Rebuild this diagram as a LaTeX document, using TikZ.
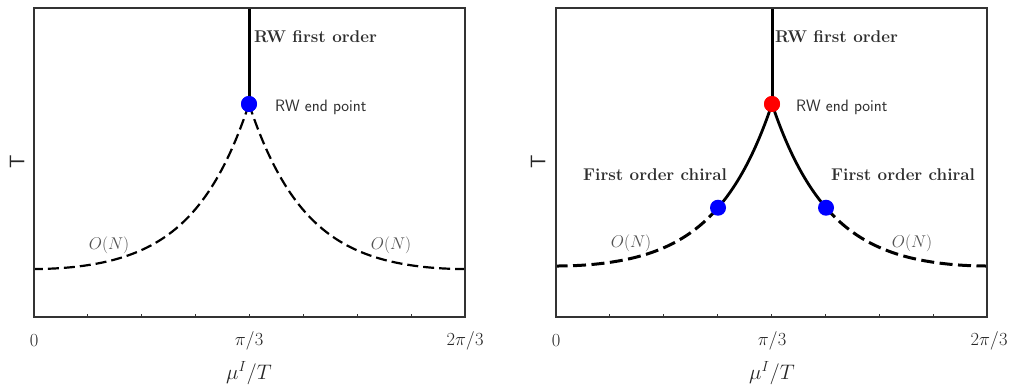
\documentclass[tikz,border=0pt]{standalone}
\usepackage{fix-cm}
\begin{document}
\begin{tikzpicture}[x=1pt,y=-1pt,
  declare function={fb(\d)=(exp(-\d/57)+exp(-(431-\d)/57)-2*exp(-215.5/57))/(1+exp(-431/57)-2*exp(-215.5/57));},
  frame/.style={draw=black!80, line width=1.3pt},
  tickline/.style={draw=black!80, line width=0.9pt},
  dot/.style={circle, inner sep=0pt, minimum size=16pt, draw=none},
  boldlab/.style={inner sep=0pt, text=black!82, font=\fontsize{17}{19}\selectfont\bfseries},
  sanslab/.style={inner sep=0pt, text=black!82, font=\fontsize{16.5}{18}\selectfont\sffamily},
  onlab/.style={inner sep=0pt, text=black!68, font=\fontsize{17}{19}\selectfont},
  ticklab/.style={inner sep=0pt, text=black!85, font=\fontsize{18.5}{20}\selectfont},
  axlab/.style={inner sep=0pt, text=black!85, font=\fontsize{21}{23}\selectfont},
  ylab/.style={inner sep=0pt, text=black!85, rotate=90, font=\fontsize{21}{23}\selectfont\sffamily},
  lefdash/.style={line width=2.2pt, dash pattern=on 11pt off 5pt},
  rigdash/.style={line width=3pt, dash pattern=on 13pt off 5.5pt},
  solidc/.style={line width=2.8pt},
  rwline/.style={line width=3pt},
]
\useasboundingbox (0,0) rectangle (1011,385);
% ---------- left panel ----------
\draw[lefdash] plot[domain=0:215.5, samples=100] ({249-\x},{269-165*fb(\x)});
\draw[lefdash] plot[domain=0:215.5, samples=100] ({249+\x},{269-165*fb(\x)});
\coordinate (ltop) at (249,8);
\node[dot, fill=blue] (lend) at (249,104) {};
\draw[rwline] (ltop) -- (lend.center);
\node[dot, fill=blue] at (lend) {};
\draw[frame] (34,8) rectangle (465,317);
\foreach \i in {1,...,7} \draw[tickline] ({34+\i*53.875},317) -- ++(0,-3.5);
\node[boldlab, anchor=base west] (lrw) at (254,43) {RW first order};
\node[sanslab, anchor=base west] (lep) at (275,112) {RW end point};
\node[onlab, anchor=base] (lon1) at (109,249) {$O(N)$};
\node[onlab, anchor=base] (lon2) at (391,249) {$O(N)$};
\node[ticklab] (lt0) at (34,341) {$0$};
\node[ticklab] (lt1) at (249,341) {$\pi/3$};
\node[ticklab] (lt2) at (465,341) {$2\pi/3$};
\node[axlab] (lxl) at (249,373) {$\mu^I/T$};
\node[ylab] (lyl) at (17,162) {T};
% ---------- right panel ----------
\draw[rigdash] plot[domain=54:215.5, samples=80] ({772-\x},{266-162*fb(\x)});
\draw[rigdash] plot[domain=54:215.5, samples=80] ({772+\x},{266-162*fb(\x)});
\draw[solidc] plot[domain=0:54, samples=40] ({772-\x},{266-162*fb(\x)});
\draw[solidc] plot[domain=0:54, samples=40] ({772+\x},{266-162*fb(\x)});
\coordinate (rtop) at (772,8);
\node[dot, fill=red] (rend) at (772,104) {};
\draw[rwline] (rtop) -- (rend.center);
\node[dot, fill=red] at (rend) {};
\node[dot, fill=blue] (rb1) at ({772-54},{266-162*fb(54)}) {};
\node[dot, fill=blue] (rb2) at ({772+54},{266-162*fb(54)}) {};
\draw[frame] (556,8) rectangle (987,317);
\foreach \i in {1,...,7} \draw[tickline] ({556+\i*53.875},317) -- ++(0,-3.5);
\node[boldlab, anchor=base west] (rrw) at (775,43) {RW first order};
\node[sanslab, anchor=base west] (rep) at (796,112) {RW end point};
\node[boldlab, anchor=base west] (rfc1) at (583,180) {First order chiral};
\node[boldlab, anchor=base west] (rfc2) at (831,180) {First order chiral};
\node[onlab, anchor=base] (ron1) at (631,247) {$O(N)$};
\node[onlab, anchor=base] (ron2) at (912,247) {$O(N)$};
\node[ticklab] (rt0) at (556,341) {$0$};
\node[ticklab] (rt1) at (772,341) {$\pi/3$};
\node[ticklab] (rt2) at (989,341) {$2\pi/3$};
\node[axlab] (rxl) at (772,373) {$\mu^I/T$};
\node[ylab] (ryl) at (538,162) {T};
\end{tikzpicture}
\end{document}
